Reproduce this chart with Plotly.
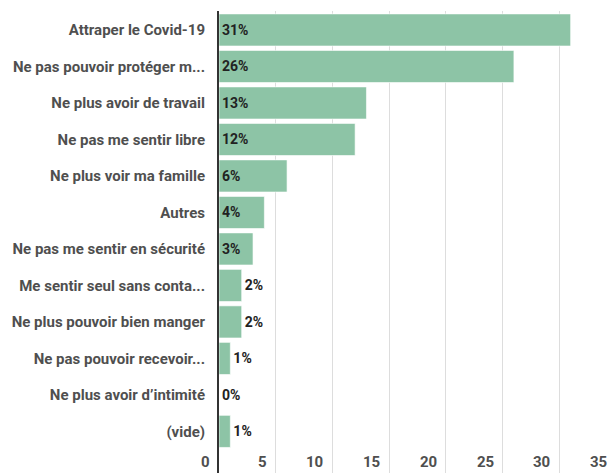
import plotly.graph_objects as go

categories = [
    "Attraper le Covid-19",
    "Ne pas pouvoir protéger m...",
    "Ne plus avoir de travail",
    "Ne pas me sentir libre",
    "Ne plus voir ma famille",
    "Autres",
    "Ne pas me sentir en sécurité",
    "Me sentir seul sans conta...",
    "Ne plus pouvoir bien manger",
    "Ne pas pouvoir recevoir...",
    "Ne plus avoir d’intimité",
    "(vide)",
]
values = [31, 26, 13, 12, 6, 4, 3, 2, 2, 1, 0, 1]
labels = ["31%", "26%", "13%", "12%", "6%", "4%", "3%", "2%", "2%", "1%", "0%", "1%"]
x_ticks = [0, 5, 10, 15, 20, 25, 30, 35]

positions = ["inside" if v >= 3 else "outside" for v in values]

fig = go.Figure(go.Bar(
    x=values, y=categories, orientation="h",
    text=labels, textposition=positions, insidetextanchor="start",
    constraintext="none", cliponaxis=False,
    textfont=dict(family="Roboto", size=14, color="#222222", weight="bold"),
    marker=dict(color="#8dc4a6", line=dict(color="rgba(255,255,255,0.6)", width=1)),
))

fig.update_layout(
    width=616, height=473,
    margin=dict(l=219, r=0, t=11, b=0),
    paper_bgcolor="white", plot_bgcolor="white",
    bargap=0.12, showlegend=False,
    font=dict(family="Roboto", size=14, color="#444444"),
)
fig.update_xaxes(
    range=[0, 35], dtick=5, tick0=0, showgrid=True, gridcolor="#dddddd",
    gridwidth=1, showticklabels=False, zeroline=False, showline=False, fixedrange=True,
)
fig.update_yaxes(
    type="category", categoryorder="array", categoryarray=categories,
    range=[12.14, -0.52], showline=True, linecolor="#333333", linewidth=2,
    ticks="outside", ticklen=9, tickcolor="rgba(0,0,0,0)",
    tickfont=dict(family="Roboto", size=15, color="#4f4f4f", weight="bold"),
    showgrid=False, fixedrange=True, automargin=False,
)

for t in x_ticks:
    fig.add_annotation(
        x=t, y=0, xref="x", yref="paper", xanchor="right", yanchor="bottom",
        xshift=-7, yshift=0, text=str(t), showarrow=False,
        font=dict(family="Roboto", size=15, color="#4f4f4f", weight="bold"),
    )

fig.write_html(
    "out.html",
    config={"displayModeBar": False},
    post_script="document.body.style.margin='0';document.body.style.overflow='hidden';",
)
